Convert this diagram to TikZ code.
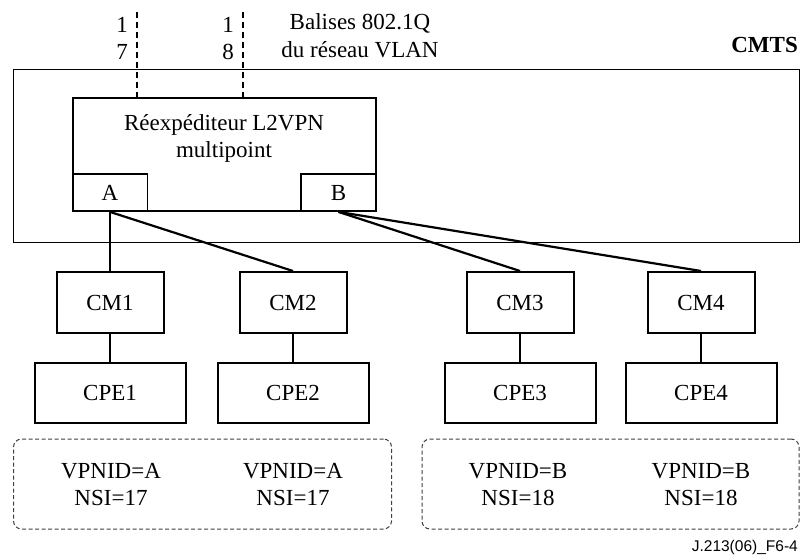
\documentclass[tikz,border=0pt]{standalone}
\usepackage{fontspec}
\setmainfont{Liberation Serif}
\newfontfamily\sansf{Liberation Sans}
\begin{document}
\begin{tikzpicture}[x=1pt,y=-1pt,
  every node/.style={font=\fontsize{23}{27}\selectfont, inner sep=0pt},
  cmbox/.style={draw, line width=2pt, minimum width=107pt, minimum height=61pt},
  cpebox/.style={draw, line width=2pt, minimum width=151pt, minimum height=60pt},
  portbox/.style={draw, line width=1.8pt, minimum width=75pt, minimum height=37pt},
  link/.style={line width=2.2pt},
  tagline/.style={line width=2.2pt, dash pattern=on 6pt off 4pt},
  group/.style={draw=black!75, line width=1pt, dash pattern=on 4pt off 2.5pt, rounded corners=8pt}]
\useasboundingbox (0,0) rectangle (803,555);
\fill[white] (0,0) rectangle (803,555);

% CMTS
\node[draw, line width=1pt, minimum width=786pt, minimum height=173pt] (cmts) at (406,155.5) {};
\node[anchor=base east, font=\fontsize{23}{27}\selectfont\bfseries] (cmtslabel) at (798,52) {CMTS};

% forwarder
\node[draw, line width=1.8pt, minimum width=303pt, minimum height=113pt] (fwd) at (224.5,154.5) {};
\node[align=center] (fwdlabel) at (224,138.5) {Réexpéditeur L2VPN\\multipoint};
\node[portbox] (A) at (110,192.5) {A};
\node[portbox] (B) at (338.5,192.5) {B};

% VLAN tags
\coordinate (t17) at (137,12);
\coordinate (t18) at (243,12);
\draw[tagline] (t17) -- (t17 |- fwd.north);
\draw[tagline] (t18) -- (t18 |- fwd.north);
\node[anchor=base] (n17a) at (122,32) {1};
\node[anchor=base] (n17b) at (122,59) {7};
\node[anchor=base] (n18a) at (228,32) {1};
\node[anchor=base] (n18b) at (228,59) {8};
\node[anchor=base] (bal1) at (360,29) {Balises 802.1Q};
\node[anchor=base] (bal2) at (360,57) {du réseau VLAN};

% CMs and CPEs
\node[cmbox] (CM1) at (110,302.5) {CM1};
\node[cmbox] (CM2) at (293,302.5) {CM2};
\node[cmbox] (CM3) at (520,302.5) {CM3};
\node[cmbox] (CM4) at (701,302.5) {CM4};
\node[cpebox] (CPE1) at (110,393) {CPE1};
\node[cpebox] (CPE2) at (293,393) {CPE2};
\node[cpebox] (CPE3) at (520,393) {CPE3};
\node[cpebox] (CPE4) at (701,393) {CPE4};

\draw[link] (A.south) -- (CM1.north);
\draw[link] (A.south) -- (CM2.north);
\draw[link] (B.south) -- (CM3.north);
\draw[link] (B.south) -- (CM4.north);
\foreach \i in {1,2,3,4} \draw[link] (CM\i.south) -- (CPE\i.north);

% groups
\node[group, minimum width=378pt, minimum height=90pt] (g1) at (202.5,484) {};
\node[group, minimum width=377pt, minimum height=90pt] (g2) at (610.5,484) {};
\node[align=center] (v1) at (111,485) {VPNID=A\\NSI=17};
\node[align=center] (v2) at (293,485) {VPNID=A\\NSI=17};
\node[align=center] (v3) at (518,485) {VPNID=B\\NSI=18};
\node[align=center] (v4) at (701,485) {VPNID=B\\NSI=18};

\node[anchor=base east, font=\fontsize{15.5}{18}\sansf] (fig) at (798,551) {J.213(06)\_F6-4};
\end{tikzpicture}
\end{document}
